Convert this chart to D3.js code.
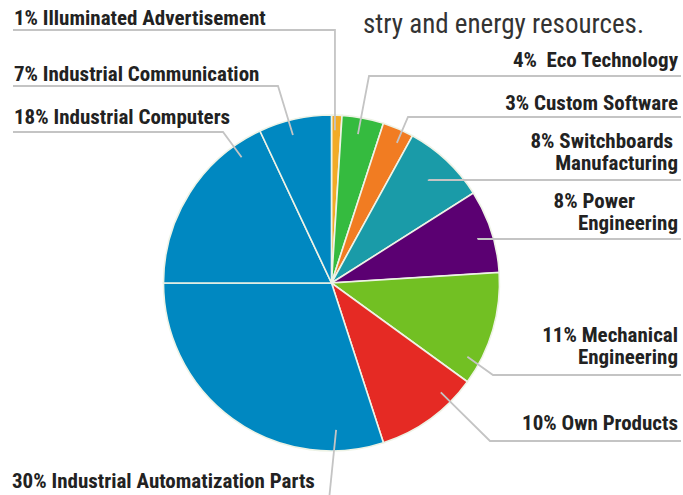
<!DOCTYPE html>
<html>
<head>
<meta charset="utf-8">
<script src="https://cdn.jsdelivr.net/npm/d3@7"></script>
<style>
  body { margin: 0; background: #fff; }
  svg text { white-space: pre; }
</style>
</head>
<body>
<div id="chart"></div>
<script>
// --- data ---
const categories = [
  "Illuminated Advertisement", "Eco Technology", "Custom Software",
  "Switchboards Manufacturing", "Power Engineering", "Mechanical Engineering",
  "Own Products", "Industrial Automatization Parts", "Industrial Computers",
  "Industrial Communication"
];
const shares = [1, 4, 3, 8, 8, 11, 10, 30, 18, 7];
const sliceColors = [
  "#f2ab27", "#35bb3f", "#f17c22", "#1a9ba8", "#5b0072",
  "#72c023", "#e52a24", "#0088c1", "#0088c1", "#0088c1"
];

// label text lines (percent is prepended to the first line)
const labelLines = [
  [" Illuminated Advertisement"],
  ["  Eco Technology"],
  [" Custom Software"],
  [" Switchboards ", "Manufacturing"],
  [" Power", "Engineering"],
  [" Mechanical", "Engineering"],
  [" Own Products"],
  [" Industrial Automatization Parts"],
  [" Industrial Computers"],
  [" Industrial Communication"]
];

const W = 683, H = 495;
const cx = 331.5, cy = 283, R = 168;

// label layout: side, baselines, right-edge offsets, leader line y, elbow x, anchor pos in slice
const layout = [
  { side: "L", y: [25],       line: 30,  elbow: null, t: 0.36, rf: 0.91 },
  { side: "R", y: [67],       line: 76,  elbow: 369,  t: 0.45, rf: 0.90 },
  { side: "R", y: [110],      line: 117, elbow: 408,  t: 0.65, rf: 0.92 },
  { side: "R", y: [148, 170], line: 180, elbow: null, t: 0.50, rf: 0.845, pad: [0, 0] },
  { side: "R", y: [208, 230], line: 239, elbow: null, t: 0.55, rf: 0.91, pad: [43, 0] },
  { side: "R", y: [342, 364], line: 375, elbow: 493,  t: 0.81, rf: 0.92 },
  { side: "R", y: [430],      line: 441, elbow: 490,  t: 0.25, rf: 0.92 },
  { side: "B", y: [488],      line: 500, elbow: 329,  t: 0.15, rf: 0.875 },
  { side: "L", y: [124],      line: 132, elbow: 223,  t: 0.84, rf: 0.92 },
  { side: "L", y: [81],       line: 86,  elbow: 278,  t: 0.42, rf: 0.91 }
];

const svg = d3.select("#chart")
  .append("svg")
  .attr("width", W)
  .attr("height", H);

const font = "'Roboto Condensed', 'Liberation Sans Narrow', 'DejaVu Sans Condensed', Roboto, sans-serif";

// cut-off heading line at the top
svg.append("text")
  .attr("x", 363)
  .attr("y", 33)
  .attr("font-family", font)
  .attr("font-size", "27px")
  .attr("fill", "#333")
  .text("stry and energy resources.");

const pie = d3.pie().sort(null).value(d => d);
const arcs = pie(shares);
const arc = d3.arc().innerRadius(0).outerRadius(R);

const g = svg.append("g").attr("transform", `translate(${cx},${cy})`);

g.selectAll("path")
  .data(arcs)
  .join("path")
  .attr("d", arc)
  .attr("fill", (d, i) => sliceColors[i])
  .attr("stroke", "#eef3e6")
  .attr("stroke-width", 1.6);

// leader lines
function anchorPoint(d, i) {
  const L = layout[i];
  const a = d.startAngle + L.t * (d.endAngle - d.startAngle);
  const r = R * L.rf;
  return [cx + r * Math.sin(a), cy - r * Math.cos(a)];
}

const lineGen = d3.line();
svg.selectAll(".leader")
  .data(arcs)
  .join("path")
  .attr("class", "leader")
  .attr("fill", "none")
  .attr("stroke", "#c4c4c4")
  .attr("stroke-width", 1.8)
  .attr("d", (d, i) => {
    const L = layout[i];
    const p = anchorPoint(d, i);
    const ex = L.elbow == null ? p[0] : L.elbow;
    if (L.side === "B") return lineGen([p, [ex, L.line]]);
    const endX = L.side === "L" ? 13 : 681;
    return lineGen([p, [ex, L.line], [endX, L.line]]);
  });

// labels
const labels = svg.selectAll(".label")
  .data(arcs)
  .join("text")
  .attr("class", "label")
  .attr("font-family", font)
  .attr("font-weight", "bold")
  .attr("font-size", "21px")
  .attr("fill", "#222")
  .attr("text-anchor", (d, i) => layout[i].side === "R" ? "end" : "start");

labels.each(function (d, i) {
  const L = layout[i];
  const lines = labelLines[i].slice();
  lines[0] = shares[i] + "%" + lines[0];
  lines.forEach((txt, j) => {
    const pad = L.pad ? L.pad[j] : 0;
    d3.select(this).append("tspan")
      .attr("x", L.side === "R" ? 678 - pad : (L.side === "B" ? 12 : 14))
      .attr("y", L.y[j])
      .text(txt);
  });
});
</script>
</body>
</html>
